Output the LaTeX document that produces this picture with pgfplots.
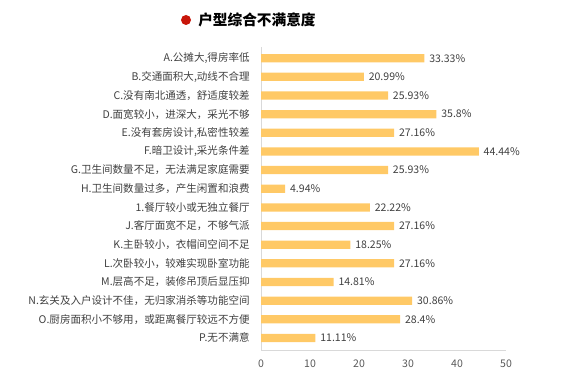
\documentclass[border=0pt]{standalone}
\usepackage{pgfplots}
\pgfplotsset{compat=1.18}
\usepackage{fontspec}
\setmainfont{Noto Sans CJK SC}
\definecolor{barc}{HTML}{FFC966}
\definecolor{lab}{HTML}{404040}
\definecolor{tick}{HTML}{595959}
\definecolor{axl}{HTML}{D9D9D9}
\definecolor{dotc}{HTML}{C8160A}
\begin{document}
\begin{tikzpicture}
\useasboundingbox (0pt,0pt) rectangle (435pt,288pt);
\fill[dotc] (139.5pt,273pt) circle (3.75pt);
\node[anchor=west,inner sep=0,font=\fontsize{11pt}{13pt}\selectfont\bfseries,text=black] at (148.5pt,273.4pt) {户型综合不满意度};
\begin{axis}[
  at={(195.75pt,24.75pt)}, anchor=south west,
  width=183.75pt, height=228pt, scale only axis,
  xmin=0, xmax=50, ymin=-0.7, ymax=15.6,
  xtick={0,10,...,50},
  ytick={0,...,15},
  yticklabels={{P.无不满意},{O.厨房面积小不够用，或距离餐厅较远不方便},{N.玄关及入户设计不佳，无归家消杀等功能空间},{M.层高不足，装修吊顶后显压抑},{L.次卧较小，较难实现卧室功能},{K.主卧较小，衣帽间空间不足},{J.客厅面宽不足，不够气派},{1.餐厅较小或无独立餐厅},{H.卫生间数量过多，产生闲置和浪费},{G.卫生间数量不足，无法满足家庭需要},{F.暗卫设计,采光条件差},{E.没有套房设计,私密性较差},{D.面宽较小，进深大，采光不够},{C.没有南北通透，舒适度较差},{B.交通面积大,动线不合理},{A.公摊大,得房率低}},
  axis x line*=bottom, axis y line*=left,
  axis line style={axl, line width=0.75pt},
  major tick length=0pt,
  /pgf/number format/assume math mode=true,
  xticklabel style={font=\fontsize{7.9pt}{9pt}\selectfont, text=tick, yshift=-3pt},
  yticklabel style={font=\fontsize{7.9pt}{9pt}\selectfont, text=lab, xshift=-5pt},
  xbar, bar width=6.2pt,
  point meta=explicit symbolic,
  nodes near coords={\pgfplotspointmeta\%},
  nodes near coords style={font=\fontsize{7.9pt}{9pt}\selectfont, text=lab, anchor=west, inner sep=0pt, xshift=3.5pt},
  clip=false,
]
\addplot[fill=barc, draw=none] coordinates {
(33.33,15) [33.33]
(20.99,14) [20.99]
(25.93,13) [25.93]
(35.8,12) [35.8]
(27.16,11) [27.16]
(44.44,10) [44.44]
(25.93,9) [25.93]
(4.94,8) [4.94]
(22.22,7) [22.22]
(27.16,6) [27.16]
(18.25,5) [18.25]
(27.16,4) [27.16]
(14.81,3) [14.81]
(30.86,2) [30.86]
(28.4,1) [28.4]
(11.11,0) [11.11]
};
\end{axis}
\end{tikzpicture}
\end{document}
